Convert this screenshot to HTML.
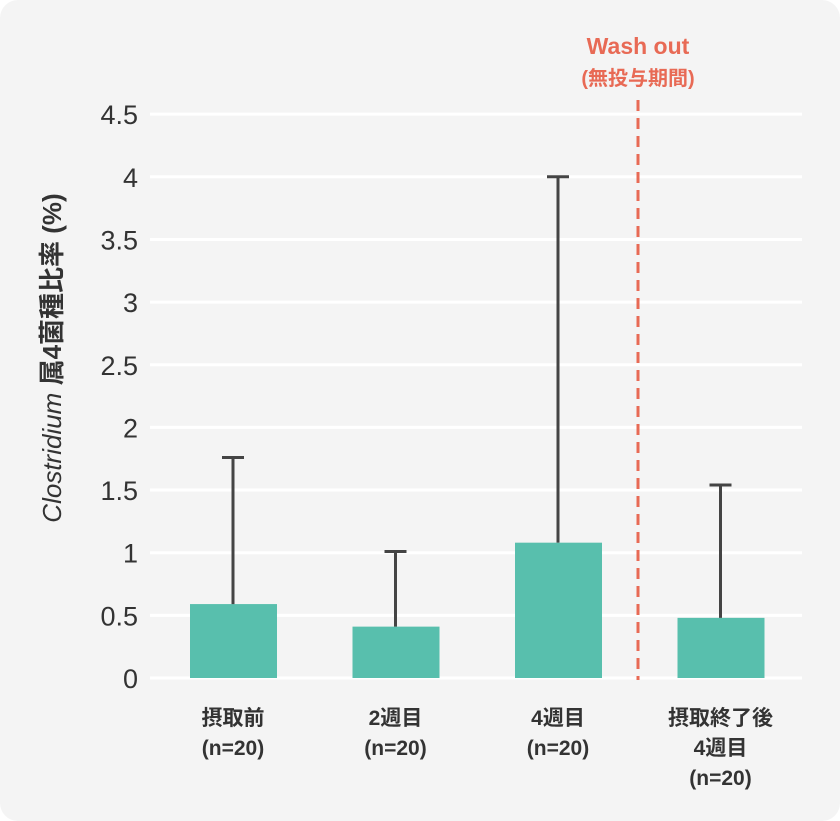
<!DOCTYPE html>
<html><head><meta charset="utf-8"><style>
body{margin:0;background:#fff;}
#wrap{position:absolute;left:0;top:0;width:840px;height:821px;background:#f4f4f4;border-radius:18px;overflow:hidden;}
svg text{font-family:"Liberation Sans","Noto Sans CJK JP",sans-serif;}
</style></head><body>
<div id="wrap">
<svg id="chart" width="840" height="821"></svg>
</div>
<script>
const categories = [["摂取前","(n=20)"],["2週目","(n=20)"],["4週目","(n=20)"],["摂取終了後","4週目","(n=20)"]];
const values = [0.59, 0.41, 1.08, 0.48];
const errors = [1.76, 1.01, 4.0, 1.54];
const ticks = [0,0.5,1,1.5,2,2.5,3,3.5,4,4.5];
const tickLabels = ["0","0.5","1","1.5","2","2.5","3","3.5","4","4.5"];

const NS="http://www.w3.org/2000/svg";
const svg=document.getElementById('chart');
function y(v){return 678 - v*125.3;}
function xc(i){return 233 + i*162.5;}
function mk(tag,attrs,parent){const e=document.createElementNS(NS,tag);for(const k in attrs)e.setAttribute(k,attrs[k]);(parent||svg).appendChild(e);return e;}

ticks.forEach((t,i)=>{
  const g=mk('line',{x1:150,x2:802,y1:y(t),y2:y(t),stroke:'#ffffff','stroke-width':3});
  
  
  const tx=mk('text',{x:138,y:y(t)+10,'text-anchor':'end','font-size':27,fill:'#333'});
  tx.textContent=tickLabels[i];
  
  
});

const yt=mk('text',{transform:'translate(61,358) rotate(-90)','text-anchor':'middle','font-size':26,fill:'#333','font-weight':'bold'});
yt.innerHTML='<tspan font-style="italic" font-weight="normal">Clostridium</tspan> 属4菌種比率 (%)';



values.forEach((v,i)=>{
  const cx=xc(i);
  const b=mk('rect',{x:cx-43,y:y(v),width:87,height:y(0)-y(v),fill:'#58bfad'});
  
  
  const l=mk('line',{x1:cx,x2:cx,y1:y(v),y2:y(errors[i]),stroke:'#444','stroke-width':3});
  
  
  const c=mk('line',{x1:cx-11,x2:cx+11,y1:y(errors[i]),y2:y(errors[i]),stroke:'#444','stroke-width':3});
  
  
  categories[i].forEach((s,j)=>{
    const t=mk('text',{x:cx,y:725+j*30,'text-anchor':'middle','font-size':21,fill:'#333','font-weight':'bold'});
    t.textContent=s;
    
    
  });
});

const d=mk('line',{x1:638,x2:638,y1:100,y2:680,stroke:'#e86a55','stroke-width':3,'stroke-dasharray':'11,7'});


const w1=mk('text',{x:638,y:54,'text-anchor':'middle','font-size':23,fill:'#e86a55','font-weight':'bold'});
w1.textContent='Wash out';


const w2=mk('text',{x:638,y:85,'text-anchor':'middle','font-size':20,fill:'#e86a55','font-weight':'bold'});
w2.textContent='(無投与期間)';


</script>
</body></html>
